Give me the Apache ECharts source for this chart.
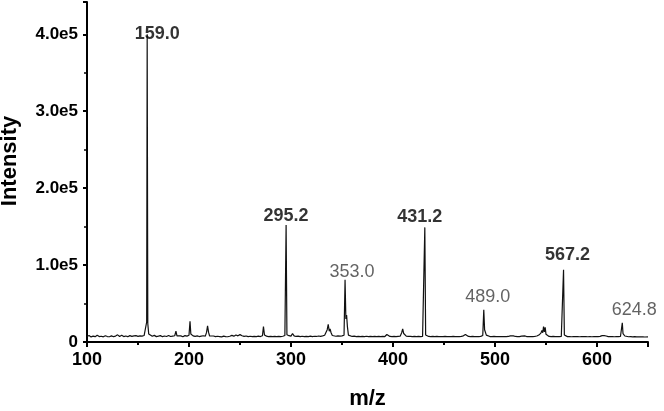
<!DOCTYPE html>
<html>
<head>
<meta charset="utf-8">
<script src="https://cdn.jsdelivr.net/npm/echarts@6/dist/echarts.min.js"></script>
<style>
  html, body { margin: 0; padding: 0; background: #fff; }
  #chart { width: 664px; height: 411px; }
</style>
</head>
<body>
<div id="chart"></div>
<script>
// m/z axis range and ticks
const mzMin = 100;
const mzMax = 650;
const mzTicks = [100, 200, 300, 400, 500, 600];
const intensityMax = 442000;
const intensityTicks = [0, 100000, 200000, 300000, 400000];

// spectrum trace, [m/z, intensity]
const spectrum = [
  [100, 7200], [102, 8400], [104, 6600], [106, 7600], [108, 6900], [110, 8700],
  [112, 7000], [114, 7500], [116, 6700], [118, 8200], [120, 7100], [122, 6800],
  [124, 7900], [126, 6900], [128, 7700], [130, 9300], [132, 7200], [134, 8700],
  [136, 7000], [138, 7800], [140, 6900], [142, 8300], [144, 7300], [146, 7900],
  [148, 8200], [150, 7400], [152, 8000], [154, 7600], [156, 8400], [157.6, 9600],
  [158.5, 26000], [159, 400000], [159.6, 24000], [160.5, 10500], [162, 8200],
  [164, 7400], [166, 8600], [168, 7000], [170, 7600], [172, 8300], [174, 6900],
  [176, 7800], [178, 7200], [180, 8500], [182, 7100], [184, 7700], [186, 8100],
  [187.2, 14000], [188.2, 8000], [190, 7300], [192, 7900], [194, 6900], [196, 8300],
  [198, 7600], [200, 8700], [201, 27000], [201.8, 10500], [203, 12000], [204, 8000],
  [206, 7400], [208, 7900], [210, 7100], [212, 7600], [214, 8100], [216, 7700],
  [217.2, 12500], [218.2, 21000], [219.2, 12500], [220.2, 7800], [222, 7200],
  [224, 7800], [226, 6900], [228, 7500], [230, 7100], [232, 6700], [234, 7600],
  [236, 7000], [238, 6800], [240, 7500], [242, 8600], [244, 7600], [246, 9200],
  [248, 8000], [250, 9600], [252, 8100], [254, 7300], [256, 7800], [258, 7000],
  [260, 7500], [262, 6900], [264, 7400], [266, 7000], [268, 7600], [270, 7100],
  [272, 8200], [273, 20000], [274, 9000], [276, 7600], [278, 7000], [280, 7400],
  [282, 6900], [284, 7300], [286, 7000], [288, 7400], [290, 7100], [292, 7500],
  [294, 8500], [295.2, 152000], [296, 9500], [298, 8200], [300, 7600], [301.5, 11000],
  [303, 8000], [305, 7200], [307, 7700], [309, 7000], [311, 7500], [313, 6900],
  [315, 7400], [317, 7000], [319, 7600], [321, 7100], [323, 7500], [325, 7200],
  [327, 7800], [329, 7400], [331, 8000], [333, 8800], [334.5, 11000], [335.5, 16000],
  [336.5, 23000], [337.5, 14000], [338.3, 17000], [339.3, 12000], [340.5, 8500],
  [342, 7800], [344, 7500], [346, 7900], [348, 7600], [350, 8000], [352, 8800],
  [353, 81000], [353.8, 30000], [354.5, 35000], [355.3, 20000], [356.3, 9000],
  [358, 7800], [360, 7200], [362, 7600], [364, 7000], [366, 7400], [368, 6900],
  [370, 7300], [372, 7000], [374, 7500], [376, 6900], [378, 7300], [380, 7000],
  [382, 7400], [384, 6900], [386, 7200], [388, 7000], [390, 7400], [392, 7100],
  [394, 9800], [395, 7600], [397, 7200], [399, 7000], [401, 7300], [403, 6900],
  [405, 7300], [407, 7600], [408.5, 12000], [409.5, 17000], [410.5, 11000],
  [411.5, 9000], [413, 7600], [415, 7200], [417, 7400], [419, 7000], [421, 7300],
  [423, 6900], [425, 7200], [427, 7000], [429, 7300], [430.5, 8500], [431.2, 149000],
  [432, 9000], [433.5, 7600], [435, 7200], [437, 7000], [439, 7300], [441, 6900],
  [443, 7200], [445, 7000], [447, 7100], [449, 6900], [451, 7200], [453, 7000],
  [455, 7100], [457, 6900], [459, 7200], [461, 7000], [463, 7100], [465, 6900],
  [467, 7300], [469, 8000], [470, 10000], [471, 9800], [472, 8000], [474, 7200],
  [476, 7000], [478, 7200], [480, 6900], [482, 7100], [484, 7000], [486, 7300],
  [488, 8500], [489, 42000], [489.8, 16000], [490.6, 14000], [491.5, 9000],
  [493, 7500], [495, 7100], [497, 7000], [499, 7200], [501, 6900], [503, 7100],
  [505, 6900], [507, 7100], [509, 6900], [511, 7000], [513, 7200], [515, 8000],
  [516.5, 9800], [518, 8000], [520, 7200], [522, 7000], [524, 7100], [526, 7600],
  [527.5, 9200], [529, 8000], [531, 7100], [533, 6900], [535, 7100], [537, 7000],
  [539, 7300], [541, 7800], [543, 9000], [545, 11500], [546, 15000], [546.8, 12000],
  [547.6, 20000], [548.4, 13000], [549.2, 19000], [550, 10000], [551.5, 8000],
  [553, 7300], [555, 7000], [557, 7200], [559, 6900], [561, 7100], [563, 7000],
  [565, 7200], [566.4, 8500], [567.2, 94000], [568, 9000], [569.5, 7400],
  [571, 7000], [573, 7100], [575, 6800], [577, 7000], [579, 6900], [581, 7000],
  [583, 6800], [585, 7000], [587, 6900], [589, 7000], [591, 6800], [593, 7000],
  [595, 6800], [597, 7000], [599, 6900], [601, 7000], [603, 7300], [605, 8200],
  [606, 9000], [607, 8300], [608, 8900], [609, 7800], [611, 7000], [613, 6900],
  [615, 7000], [617, 6800], [619, 7000], [621, 6900], [623, 7200], [624, 8500],
  [624.8, 25000], [625.5, 11000], [626.3, 12000], [627.3, 7800], [629, 7000],
  [631, 6800], [633, 7000], [635, 6700], [637, 6900], [639, 6600], [641, 6800],
  [643, 6600], [645, 6700], [647, 6500], [650, 6600]
];

// annotated peaks
const peakMz = [159.0, 295.2, 353.0, 431.2, 489.0, 567.2, 624.8];
const peakIntensity = [400000, 152000, 81000, 149000, 42000, 94000, 25000];
const peakText = ['159.0', '295.2', '353.0', '431.2', '489.0', '567.2', '624.8'];

// label look for each annotated peak
const labelBold = [true, true, false, true, false, true, false];
const labelShift = [[10, 0], [0, 0], [7, 0], [-5, 0], [4, 0], [4, 0], [12, 0]];
const labelGap = [null, 0, -1, 1, 4, 6, 4];

const FONT = '"Liberation Sans", Arial, Helvetica, sans-serif';

function fmtIntensity(v) {
  if (v === 0) {
    return '0';
  }
  return (v / 100000).toFixed(1) + 'e5';
}

const labelData = peakMz.map((mz, i) => {
  const bold = labelBold[i];
  const inside = labelGap[i] === null;
  return {
    value: [mz, peakIntensity[i]],
    label: {
      show: true,
      formatter: peakText[i],
      position: inside ? 'inside' : 'top',
      distance: inside ? 0 : labelGap[i],
      offset: labelShift[i],
      fontFamily: FONT,
      fontSize: 18,
      fontWeight: bold ? 'bold' : 'normal',
      color: bold ? '#000' : '#3c3c3c'
    }
  };
});

const chart = echarts.init(document.getElementById('chart'), null, { renderer: 'canvas' });

chart.setOption({
  animation: false,
  backgroundColor: '#fff',
  grid: { left: 87, right: 16, top: 2, bottom: 69, containLabel: false, outerBoundsMode: 'none' },
  xAxis: {
    type: 'value',
    min: mzMin,
    max: mzMax,
    interval: 100,
    name: 'm/z',
    nameLocation: 'middle',
    nameGap: 46,
    nameTextStyle: { fontFamily: FONT, fontSize: 22, fontWeight: 'bold', color: '#000' },
    axisLine: { show: true, onZero: false, lineStyle: { color: '#000', width: 2 } },
    axisTick: { show: true, length: 5, lineStyle: { color: '#000', width: 2 } },
    minorTick: { show: true, splitNumber: 2, length: 3, lineStyle: { color: '#000', width: 2 } },
    splitLine: { show: false },
    axisLabel: {
      margin: 9,
      fontFamily: FONT,
      fontSize: 18,
      fontWeight: 'bold',
      color: '#000',
      customValues: mzTicks,
      formatter: v => String(v)
    }
  },
  yAxis: {
    type: 'value',
    min: 0,
    max: intensityMax,
    interval: 100000,
    name: 'Intensity',
    nameLocation: 'middle',
    nameGap: 66,
    nameTextStyle: { fontFamily: FONT, fontSize: 22, fontWeight: 'bold', color: '#000', padding: [0, 0, 0, 22] },
    axisLine: { show: true, lineStyle: { color: '#000', width: 2 } },
    axisTick: { show: true, length: 4, lineStyle: { color: '#000', width: 2 } },
    minorTick: { show: true, splitNumber: 2, length: 3, lineStyle: { color: '#000', width: 1.5 } },
    splitLine: { show: false },
    axisLabel: {
      margin: 9,
      fontFamily: FONT,
      fontSize: 17,
      fontWeight: 'bold',
      color: '#000',
      customValues: intensityTicks,
      formatter: fmtIntensity
    }
  },
  series: [
    {
      name: 'spectrum',
      type: 'line',
      data: spectrum,
      showSymbol: false,
      symbol: 'none',
      lineStyle: { color: '#111', width: 1.2 },
      z: 2
    },
    {
      name: 'peaks',
      type: 'scatter',
      data: labelData,
      symbolSize: 0,
      itemStyle: { color: 'transparent' },
      z: 3
    }
  ]
});
</script>
</body>
</html>
